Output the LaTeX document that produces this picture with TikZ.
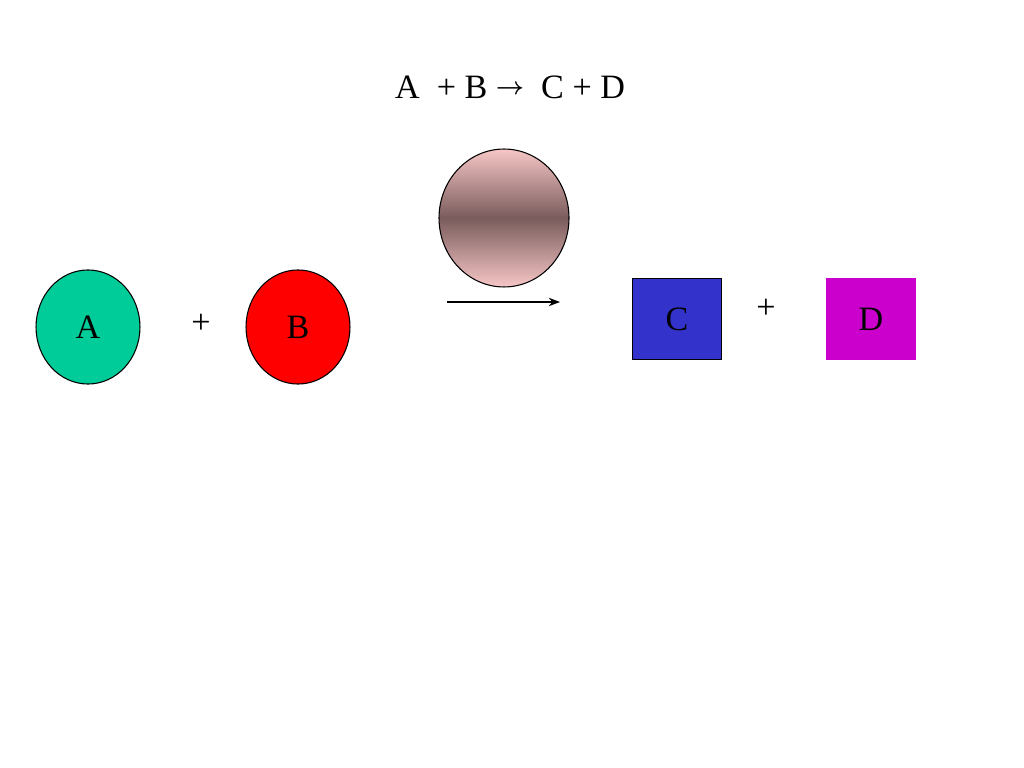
\documentclass[tikz,border=0pt]{standalone}
\usepackage{fontspec}
\setmainfont{Liberation Serif}
\usepackage{tikz}
\usepackage{xcolor}
\usetikzlibrary{arrows.meta,shapes.geometric}

\definecolor{teal}{RGB}{0,204,153}
\definecolor{ballred}{RGB}{255,0,0}
\definecolor{boxblue}{RGB}{51,51,204}
\definecolor{boxpink}{RGB}{204,0,204}
\definecolor{lightrose}{RGB}{247,198,198}
\definecolor{darkrose}{RGB}{122,92,92}

\begin{document}
\begin{tikzpicture}[x=0.703125pt,y=-0.703125pt,
  every node/.style={inner sep=0pt,font=\fontsize{24}{28}\selectfont},
  ball/.style={ellipse,draw=black,line width=0.75pt,minimum width=73.1pt,minimum height=80.2pt},
  box/.style={rectangle,minimum width=62.6pt,minimum height=57pt}]
\useasboundingbox (0,0) rectangle (1024,768);
% equation
\node (eq) at (510,99) [anchor=base] {A\ \ + B \raisebox{3.5pt}{\fontsize{18}{18}\selectfont\boldmath$\rightarrow$}\ \ C + D};
% catalyst
\node (cat) at (504,218) [ellipse,draw=black,line width=0.75pt,minimum width=91.4pt,minimum height=97pt,
  top color=lightrose,bottom color=lightrose,middle color=darkrose] {};
\coordinate (s) at (447,302);
\coordinate (t) at (560,302);
\draw[-{Stealth[length=8pt,width=6pt]},line width=0.9pt] (s) -- (t);
% reactants
\node (a) at (88,327) [ball,fill=teal] {A};
\node (p1) at (201,324) {+};
\node (b) at (298,327) [ball,fill=ballred] {B};
% products
\node (c) at (677,319) [box,draw=black,line width=0.75pt,fill=boxblue] {C};
\node (p2) at (766,309) {+};
\node (d) at (871,319) [box,fill=boxpink] {D};
\end{tikzpicture}
\end{document}
